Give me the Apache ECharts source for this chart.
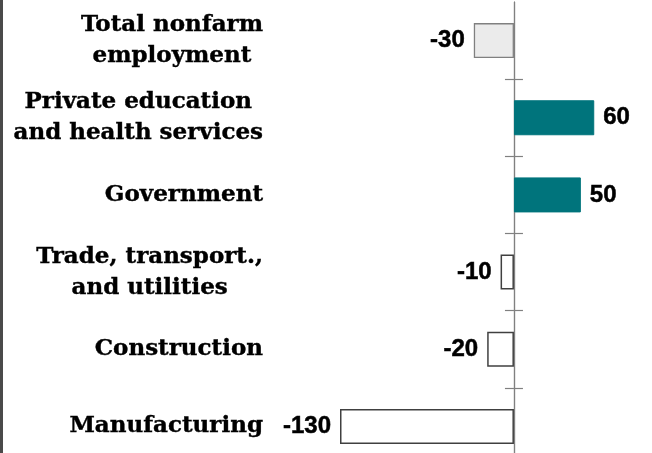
<!DOCTYPE html>
<html>
<head>
<meta charset="utf-8">
<script src="https://cdn.jsdelivr.net/npm/echarts@6/dist/echarts.min.js"></script>
<style>
  html, body { margin: 0; padding: 0; background: #fff; }
  #chart { width: 652px; height: 453px; }
</style>
</head>
<body>
<div id="chart"></div>
<script>
// 分类（从上到下）
const categories = [
  'Total nonfarm\nemployment',
  'Private education\nand health services',
  'Government',
  'Trade, transport.,\nand utilities',
  'Construction',
  'Manufacturing',
];
// 变化值（千人）
const values = [-30, 60, 50, -10, -20, -130];

const TEAL = '#00747c';

/* 每根柱子的样式：第一根为总量，其余按正负区分 */
function barStyle(v, i) {
  if (i === 0) return { color: '#ebebeb', borderColor: '#808080', borderWidth: 1.3 };
  if (v > 0) return { color: TEAL, borderColor: TEAL, borderWidth: 1 };
  return { color: '#ffffff', borderColor: '#404040', borderWidth: 1.5 };
}

const seriesData = values.map((v, i) => ({
  value: v,
  itemStyle: barStyle(v, i),
  label: { position: v >= 0 ? 'right' : 'left' },
}));

const catLabel = {
  show: true,
  interval: 0,
  margin: 77,
  formatter: (val) => val.split('\n').map((s) => `{c|${s}}`).join('\n'),
  rich: {
    c: {
      align: 'center',
      fontFamily: 'DejaVu Serif',
      fontWeight: 'bold',
      fontSize: 23,
      lineHeight: 31,
      color: '#000',
      textBorderColor: '#000',
      textBorderWidth: 0.4,
    },
  },
};

const zeroLine = { show: true, onZero: true, onZeroAxisIndex: 0, lineStyle: { color: '#808080', width: 1.2 } };
const tickInterval = (idx) => idx !== 0;

const myChart = echarts.init(document.getElementById('chart'));
const option = {
  animation: false,
  backgroundColor: '#fff',
  grid: {
    left: 340,
    top: 2,
    width: 281,
    height: 463,
    containLabel: false,
    outerBoundsMode: 'none',
  },
  xAxis: {
    type: 'value',
    min: -130,
    max: 80,
    show: false,
    splitLine: { show: false },
  },
  yAxis: [
    {
      type: 'category',
      data: categories,
      inverse: true,
      position: 'left',
      axisLine: { show: false, onZero: false },
      axisTick: { show: false },
      axisLabel: catLabel,
      splitLine: { show: false },
    },
    {
      type: 'category',
      data: categories,
      inverse: true,
      position: 'left',
      axisLine: zeroLine,
      axisTick: { show: true, length: 9, interval: tickInterval, lineStyle: { color: '#808080', width: 1.2 } },
      axisLabel: { show: false },
      splitLine: { show: false },
    },
    {
      type: 'category',
      data: categories,
      inverse: true,
      position: 'left',
      axisLine: zeroLine,
      axisTick: { show: true, inside: true, length: 9, interval: tickInterval, lineStyle: { color: '#808080', width: 1.2 } },
      axisLabel: { show: false },
      splitLine: { show: false },
    },
  ],
  series: [{
    type: 'bar',
    yAxisIndex: 0,
    barWidth: 35,
    data: seriesData,
    label: {
      show: true,
      distance: 9,
      fontFamily: '"Liberation Sans", Arial, sans-serif',
      fontWeight: 'bold',
      fontSize: 24,
      color: '#000',
      textBorderColor: '#000',
      textBorderWidth: 0.5,
    },
  }],
  graphic: [{
    type: 'rect',
    left: 0,
    top: 0,
    shape: { width: 3, height: 453 },
    style: { fill: '#4a4a4a' },
    silent: true,
  }],
};
myChart.setOption(option);
</script>
</body>
</html>
